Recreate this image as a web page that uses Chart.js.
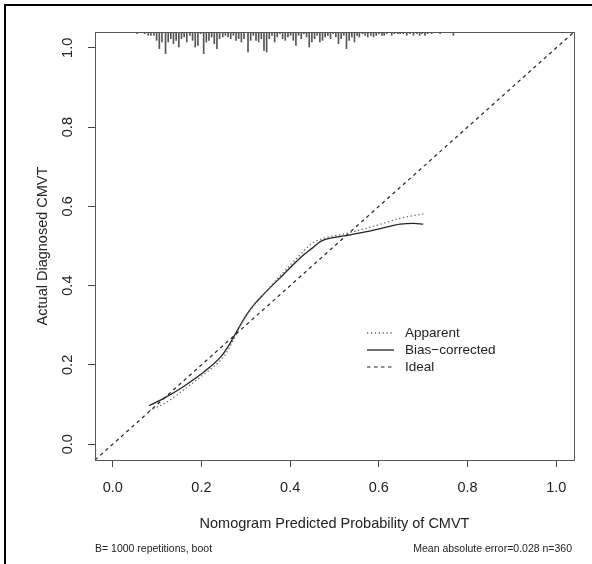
<!DOCTYPE html>
<html>
<head>
<meta charset="utf-8">
<script src="https://cdn.jsdelivr.net/npm/chart.js@4.4.0/dist/chart.umd.min.js"></script>
<style>
  body { margin: 0; background: #fff; }
  canvas { display: block; }
</style>
</head>
<body>
<canvas id="grafico" width="592" height="564"></canvas>
<script>
const apparentX = [0.083, 0.12, 0.16, 0.21, 0.24, 0.255, 0.27, 0.285, 0.30, 0.32, 0.34, 0.38, 0.422, 0.445, 0.471, 0.497, 0.535, 0.573, 0.61, 0.648, 0.70];
const apparentY = [0.085, 0.105, 0.137, 0.180, 0.208, 0.228, 0.258, 0.292, 0.322, 0.352, 0.378, 0.428, 0.477, 0.503, 0.518, 0.525, 0.534, 0.545, 0.557, 0.570, 0.581];

const biasX = [0.082, 0.114, 0.159, 0.211, 0.245, 0.26, 0.275, 0.29, 0.305, 0.32, 0.34, 0.384, 0.422, 0.449, 0.471, 0.497, 0.535, 0.573, 0.61, 0.648, 0.678, 0.70];
const biasY = [0.097, 0.115, 0.145, 0.187, 0.222, 0.246, 0.275, 0.305, 0.332, 0.354, 0.378, 0.427, 0.469, 0.494, 0.513, 0.521, 0.528, 0.536, 0.546, 0.555, 0.557, 0.555];

const idealX = [-0.04, 1.04];

// rug superior: posicion y frecuencia relativa
const rugX = [0.055, 0.072, 0.080, 0.086, 0.093, 0.099, 0.105, 0.111, 0.119, 0.125, 0.131, 0.137, 0.143, 0.149, 0.155, 0.161, 0.167, 0.174, 0.180, 0.186,
  0.192, 0.198, 0.205, 0.211, 0.217, 0.223, 0.229, 0.235, 0.241, 0.248, 0.254, 0.260, 0.266, 0.272, 0.278, 0.284, 0.290, 0.296, 0.305, 0.311,
  0.317, 0.323, 0.329, 0.335, 0.341, 0.347, 0.353, 0.359, 0.365, 0.371, 0.377, 0.383, 0.389, 0.395, 0.401, 0.407, 0.413, 0.419, 0.425, 0.431,
  0.437, 0.443, 0.449, 0.455, 0.461, 0.467, 0.473, 0.479, 0.485, 0.491, 0.497, 0.503, 0.509, 0.515, 0.521, 0.527, 0.533, 0.539, 0.545, 0.551,
  0.556, 0.563, 0.569, 0.575, 0.582, 0.588, 0.594, 0.600, 0.607, 0.612, 0.618, 0.629, 0.635, 0.643, 0.648, 0.655, 0.663, 0.670, 0.678, 0.686,
  0.692, 0.697, 0.704, 0.710, 0.719, 0.738, 0.768];
const rugCount = [1, 1, 2, 2, 2, 5, 10, 6, 13, 6, 4, 7, 5, 9, 4, 3, 6, 2, 5, 9,
  8, 1, 13, 6, 5, 3, 7, 10, 4, 3, 2, 3, 4, 2, 5, 4, 6, 4, 12, 5,
  2, 5, 6, 4, 11, 12, 4, 2, 6, 3, 1, 4, 5, 3, 2, 5, 8, 2, 4, 1,
  3, 9, 6, 4, 2, 6, 5, 3, 2, 4, 1, 3, 7, 4, 2, 10, 5, 3, 6, 2,
  3, 1, 2, 3, 2, 3, 2, 1, 2, 2, 1, 2, 1, 1, 1, 1, 2, 1, 2, 1,
  2, 1, 2, 1, 1, 1, 2];

const xTicks = [0, 0.2, 0.4, 0.6, 0.8, 1.0];
const yTicks = [0, 0.2, 0.4, 0.6, 0.8, 1.0];

const etiquetas = ['Apparent', 'Bias\u2212corrected', 'Ideal'];
const textoIzq = 'B= 1000 repetitions, boot';
const textoDer = 'Mean absolute error=0.028 n=360';

const FUENTE = "'Liberation Sans', Arial, sans-serif";
const TOPE = 1.04;

// dibuja caja, marco exterior, leyenda y subtitulos
const extras = {
  id: 'extras',
  afterDraw(chart) {
    const ctx = chart.ctx;
    const a = chart.chartArea;
    ctx.save();
    // marco exterior
    ctx.fillStyle = '#000';
    ctx.fillRect(4, 4, 592, 2);
    ctx.fillRect(4, 4, 2, 564);
    // caja del grafico
    ctx.strokeStyle = '#555';
    ctx.lineWidth = 1;
    ctx.strokeRect(Math.round(a.left) + 0.5, Math.round(a.top) + 0.5, Math.round(a.right - a.left), Math.round(a.bottom - a.top));

    // leyenda
    const sets = [chart.data.datasets[1], chart.data.datasets[2], chart.data.datasets[3]];
    const lx = a.left + 272, ly = a.top + 301;
    ctx.font = '13.5px ' + FUENTE;
    ctx.textBaseline = 'middle';
    ctx.textAlign = 'left';
    sets.forEach((ds, i) => {
      const y = ly + i * 17;
      ctx.strokeStyle = ds.borderColor;
      ctx.lineWidth = ds.borderWidth;
      ctx.setLineDash(ds.borderDash || []);
      ctx.beginPath();
      ctx.moveTo(lx, y);
      ctx.lineTo(lx + 27, y);
      ctx.stroke();
      ctx.setLineDash([]);
      ctx.fillStyle = '#222';
      ctx.fillText(etiquetas[i], lx + 38, y + 0.5);
    });

    // subtitulos
    ctx.font = '10.5px ' + FUENTE;
    ctx.fillStyle = '#222';
    ctx.textAlign = 'left';
    ctx.fillText(textoIzq, a.left, 549);
    ctx.textAlign = 'right';
    ctx.fillText(textoDer, a.right - 2, 549);
    ctx.restore();
  }
};

const chart = new Chart(document.getElementById('grafico'), {
  type: 'line',
  data: {
    datasets: [
      {
        type: 'bar',
        label: 'rug',
        data: rugX.map((x, i) => ({ x: x, y: [TOPE, TOPE - rugCount[i] * 0.0042] })),
        backgroundColor: '#555',
        borderWidth: 0,
        barThickness: 1,
        grouped: false
      },
      {
        label: etiquetas[0],
        data: apparentX.map((x, i) => ({ x: x, y: apparentY[i] })),
        borderColor: '#666',
        borderWidth: 1.3,
        borderDash: [1.3, 2.6],
        pointRadius: 0,
        cubicInterpolationMode: 'monotone'
      },
      {
        label: etiquetas[1],
        data: biasX.map((x, i) => ({ x: x, y: biasY[i] })),
        borderColor: '#222',
        borderWidth: 1.3,
        pointRadius: 0,
        cubicInterpolationMode: 'monotone'
      },
      {
        label: etiquetas[2],
        data: idealX.map(x => ({ x: x, y: x })),
        borderColor: '#222',
        borderWidth: 1.2,
        borderDash: [3.5, 3.5],
        pointRadius: 0
      }
    ]
  },
  options: {
    responsive: false,
    animation: false,
    layout: { padding: { top: 32, right: 18, left: 0, bottom: 0 } },
    plugins: {
      legend: { display: false },
      tooltip: { enabled: false }
    },
    scales: {
      x: {
        type: 'linear',
        min: -0.04,
        max: 1.04,
        offset: false,
        afterBuildTicks: axis => { axis.ticks = xTicks.map(v => ({ value: v })); },
        afterFit: axis => { axis.height = 104; },
        ticks: {
          callback: v => v.toFixed(1),
          color: '#222',
          font: { family: FUENTE, size: 14.5 },
          padding: 12,
          maxRotation: 0
        },
        grid: { drawOnChartArea: false, drawTicks: true, tickLength: 7, tickColor: '#444', offset: false },
        border: { display: false },
        title: {
          display: true,
          text: 'Nomogram Predicted Probability of CMVT',
          color: '#222',
          font: { family: FUENTE, size: 14.5 },
          padding: { top: 0, bottom: 31 }
        }
      },
      y: {
        type: 'linear',
        min: -0.04,
        max: 1.04,
        afterBuildTicks: axis => { axis.ticks = yTicks.map(v => ({ value: v })); },
        afterFit: axis => { axis.width = 95; },
        ticks: {
          callback: v => v.toFixed(1),
          color: '#222',
          font: { family: FUENTE, size: 14.5 },
          padding: 10,
          minRotation: 90,
          maxRotation: 90,
          crossAlign: 'center'
        },
        grid: { drawOnChartArea: false, drawTicks: true, tickLength: 7, tickColor: '#444' },
        border: { display: false },
        title: {
          display: true,
          text: 'Actual Diagnosed CMVT',
          color: '#222',
          font: { family: FUENTE, size: 14.5 },
          padding: { top: 34, bottom: 0 }
        }
      }
    }
  },
  plugins: [extras]
});
</script>
</body>
</html>
